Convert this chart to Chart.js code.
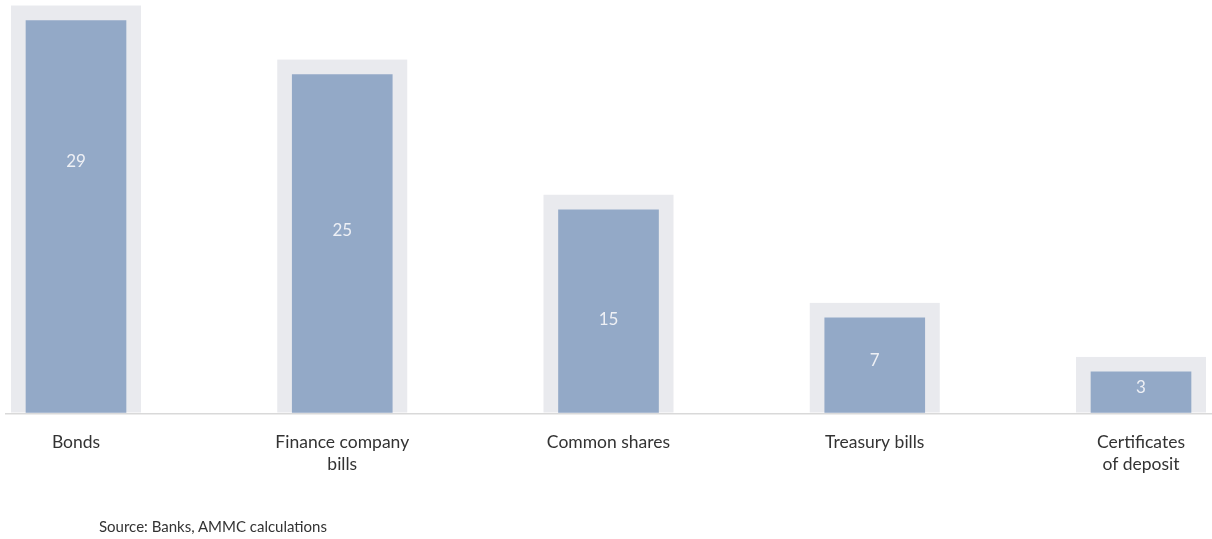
<!DOCTYPE html>
<html>
<head>
<meta charset="utf-8">
<script src="https://cdn.jsdelivr.net/npm/chart.js@4"></script>
<style>
    body { margin: 0; background: #fff; }
    #wrap { position: relative; width: 1212px; height: 539px; }
    #holdingsChart { position: absolute; left: 0; top: 0; }
    #source {
        position: absolute; left: 99px; top: 517px;
        font: 15px Lato, sans-serif; color: #333;
    }
</style>
</head>
<body>
<div id="wrap">
    <canvas id="holdingsChart" width="1212" height="539"></canvas>
    <div id="source">Source: Banks, AMMC calculations</div>
</div>
<script>
const categories = [
    'Bonds',
    ['Finance company', 'bills'],
    'Common shares',
    'Treasury bills',
    ['Certificates', 'of deposit']
];
const shares = [29, 25, 15, 7, 3];

// where each value label sits, as a share of its bar height from the base
const labelRise = [0.64, 0.54, 0.46, 0.55, 0.62];

const BAR_BLUE = '#93a9c7';
const HALO_GREY = '#e9eaee';
const HALO = 15;

// light frame behind every bar plus the long baseline
const haloPlugin = {
    id: 'halo',
    beforeDatasetsDraw(chart) {
        const ctx = chart.ctx;
        const meta = chart.getDatasetMeta(0);
        ctx.save();
        ctx.fillStyle = HALO_GREY;
        meta.data.forEach(bar => {
            const half = bar.width / 2 + HALO;
            ctx.fillRect(bar.x - half, bar.y - HALO, half * 2, bar.base - bar.y + HALO);
        });
        const base = chart.scales.y.getPixelForValue(0);
        ctx.fillStyle = '#d9d9d9';
        ctx.fillRect(5, Math.round(base), chart.width - 5, 1.5);
        ctx.restore();
    },
    afterDatasetsDraw(chart) {
        const ctx = chart.ctx;
        const meta = chart.getDatasetMeta(0);
        ctx.save();
        ctx.font = '17px Lato, sans-serif';
        ctx.fillStyle = '#eef0f5';
        ctx.textAlign = 'center';
        ctx.textBaseline = 'middle';
        meta.data.forEach((bar, i) => {
            const y = bar.base - (bar.base - bar.y) * labelRise[i];
            ctx.fillText(String(shares[i]), bar.x, y);
        });
        ctx.restore();
    }
};

new Chart(document.getElementById('holdingsChart'), {
    type: 'bar',
    data: {
        labels: categories,
        datasets: [{
            data: shares,
            backgroundColor: BAR_BLUE,
            barThickness: 100,
            clip: false
        }]
    },
    options: {
        responsive: false,
        animation: false,
        layout: { padding: { left: 76, right: 71, top: 7, bottom: 53 } },
        plugins: {
            legend: { display: false },
            tooltip: { enabled: false }
        },
        scales: {
            x: {
                offset: false,
                grid: { display: false },
                border: { display: false },
                ticks: {
                    padding: 10,
                    maxRotation: 0,
                    autoSkip: false,
                    color: '#333',
                    font: { family: 'Lato', size: 17.5, lineHeight: 1.3 }
                }
            },
            y: {
                display: false,
                min: 0,
                max: 30
            }
        }
    },
    plugins: [haloPlugin]
});
</script>
</body>
</html>
